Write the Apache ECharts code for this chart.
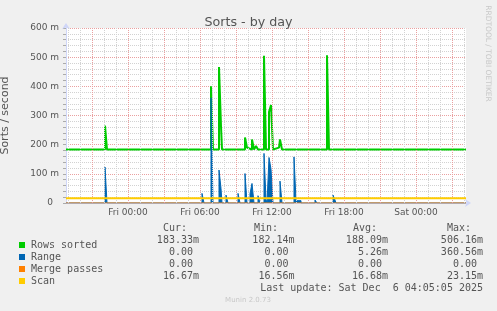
<!DOCTYPE html>
<html><head><meta charset="utf-8">
<script src="https://cdn.jsdelivr.net/npm/echarts@6/dist/echarts.min.js"></script>
<style>html,body{margin:0;padding:0;background:#F0F0F0;}#c{width:497px;height:311px;}</style>
</head><body><div id="c"></div>
<script>
// ---- data (x in minutes relative to Fri 00:00, y in milli-sorts/second) ----
const chartTitle = 'Sorts - by day';
const yAxisTitle = 'Sorts / second';
const xMin = -310, xMax = 1690;
const xTickMinutes = [0, 360, 720, 1080, 1440];
const xTickLabels = ['Fri 00:00', 'Fri 06:00', 'Fri 12:00', 'Fri 18:00', 'Sat 00:00'];
const yTickValues = [0, 100, 200, 300, 400, 500, 600];
const seriesNames = ['Rows sorted', 'Range', 'Merge passes', 'Scan'];
const seriesColors = ['#00CC00', '#0066B3', '#FF8000', '#FFCC00'];
// value holds from its time until the next listed time
const rowsSorted = [[-310,183.3],[-115,265],[-105,183.3],[375,187],[380,183.3],[415,400],[425,183.3],
  [455,466],[465,263],[470,183.3],[540,188],[545,183.3],[585,225],[595,190],[605,183.3],[620,218],[630,183.3],
  [640,195],[650,183.3],[680,505],[690,183.3],[705,312],[715,336],[725,183.3],[735,190],[755,183.3],
  [760,218],[770,183.3],[830,186],[840,183.3],[995,506.16],[1005,183.3],[1025,187],[1035,183.3],[1690,183.3]];
const range = [[-310,0],[-115,123],[-105,0],[370,33],[380,0],[415,360.56],[425,0],[455,113],[465,50],[470,0],
  [490,27],[500,0],[550,33],[560,0],[585,101],[595,0],[610,32],[620,67],[630,0],[650,25],[660,0],
  [680,170],[690,12],[695,0],[705,156],[715,116],[725,0],[760,75],[770,0],[830,158],[840,8],[865,0],
  [935,10],[945,0],[1025,27],[1035,10],[1040,0],[1690,0]];
const mergePasses = [[-310,0],[1690,0]];
const scan = [[-310,16.67],[995,23.15],[1005,16.67],[1690,16.67]];
const statHeaders = ['Cur:', 'Min:', 'Avg:', 'Max:'];
const statCur = ['183.33m', '0.00\u00a0', '0.00\u00a0', '16.67m'];
const statMin = ['182.14m', '0.00\u00a0', '0.00\u00a0', '16.56m'];
const statAvg = ['188.09m', '5.26m', '0.00\u00a0', '16.68m'];
const statMax = ['506.16m', '360.56m', '0.00\u00a0', '23.15m'];
const lastUpdate = 'Last update: Sat Dec  6 04:05:05 2025';
const footer = 'Munin 2.0.73';
const sideText = 'RRDTOOL / TOBI OETIKER';

// ---- layout ----
const minorGridColor = '#d2d2d2', majorGridColor = '#eaa0a0';
const font = 'DejaVu Sans', mono = 'DejaVu Sans Mono';
const txt = '#555555';

const vLines = [];
for (let m = -300; m <= 1680; m += 60) {
  const major = (m % 180) === 0;
  vLines.push({ xAxis: m, lineStyle: { color: major ? majorGridColor : minorGridColor, type: [1, 1], width: 1 } });
}

const graphics = [];
const colX = [199, 294.5, 388, 483];
const headerX = [163, 254, 353, 447];
const rowY = [240, 252, 264, 276];
statHeaders.forEach((h, i) => graphics.push({ type: 'text', x: headerX[i], y: 228, style: { text: h, font: '10px "' + mono + '"', fill: txt, textAlign: 'left', textVerticalAlign: 'middle' } }));
[statCur, statMin, statAvg, statMax].forEach((col, c) => col.forEach((v, r) => graphics.push({
  type: 'text', x: colX[c], y: rowY[r], style: { text: v, font: '10px "' + mono + '"', fill: txt, textAlign: 'right', textVerticalAlign: 'middle' } })));
graphics.push({ type: 'text', x: 483, y: 288, style: { text: lastUpdate, font: '10px "' + mono + '"', fill: txt, textAlign: 'right', textVerticalAlign: 'middle' } });
graphics.push({ type: 'text', x: 248, y: 300, style: { text: footer, font: '7px "' + font + '"', fill: '#c8c8c8', textAlign: 'center', textVerticalAlign: 'middle' } });
graphics.push({ type: 'text', x: 488, y: 53.5, rotation: -Math.PI / 2, style: { text: sideText, font: '7.5px "' + font + '"', fill: '#c8c8c8', textAlign: 'center', textVerticalAlign: 'middle' } });

const chart = echarts.init(document.getElementById('c'), null, { renderer: 'canvas' });
const lineSeries = (name, data, color, width, z) => ({
  name, type: 'line', data, step: 'end', showSymbol: false, symbol: 'none', z,
  lineStyle: { color, width }, itemStyle: { color }, animation: false, silent: true
});
chart.setOption({
  backgroundColor: '#F0F0F0',
  animation: false,
  title: { text: chartTitle, left: 'center', top: 11, textStyle: { fontFamily: font, fontSize: 12.7, fontWeight: 'normal', color: txt } },
  grid: { left: 66, right: 31, top: 28, bottom: 108, show: true, backgroundColor: '#FFFFFF', borderWidth: 0, containLabel: false, outerBoundsMode: 'none' },
  legend: {
    data: seriesNames.map(n => ({ name: n, icon: 'rect' })), orient: 'vertical', left: 14, top: 234,
    itemWidth: 6, itemHeight: 6, itemGap: 0, selectedMode: false,
    textStyle: { fontFamily: mono, fontSize: 10, color: txt, lineHeight: 12, padding: [0, 0, 0, 1] }
  },
  xAxis: {
    type: 'value', min: xMin, max: xMax,
    axisLine: { show: true, onZero: false, lineStyle: { color: '#CFD6F8', width: 1 }, symbol: ['none', 'arrow'], symbolSize: [6, 6], symbolOffset: [0, 5] },
    axisTick: { show: false },
    splitLine: { show: false },
    axisLabel: { customValues: xTickMinutes, formatter: v => xTickLabels[xTickMinutes.indexOf(v)] || '', fontFamily: font, fontSize: 9, color: txt, margin: 5 }
  },
  yAxis: {
    type: 'value', min: 0, max: 600, interval: 100,
    name: yAxisTitle, nameLocation: 'middle', nameGap: 55, nameTextStyle: { fontFamily: font, fontSize: 11, color: txt },
    axisLine: { show: true, onZero: false, lineStyle: { color: '#CFD6F8', width: 1 }, symbol: ['none', 'arrow'], symbolSize: [6, 6], symbolOffset: [0, 5] },
    axisTick: { show: true, length: 3, lineStyle: { color: '#aaaaaa' } },
    minorTick: { show: true, splitNumber: 5, length: 3, lineStyle: { color: '#aaaaaa' } },
    splitLine: { show: true, lineStyle: { color: majorGridColor, type: [1, 1] } },
    minorSplitLine: { show: true, lineStyle: { color: minorGridColor, type: [1, 1] } },
    axisLabel: {
      formatter: v => (v === 0 ? '{z|0}' : v + ' m'), fontFamily: font, fontSize: 9, color: txt, margin: 7,
      rich: { z: { fontFamily: font, fontSize: 9, color: txt, padding: [0, 6, 0, 0] } }
    }
  },
  series: [
    { name: 'grid', type: 'line', data: [], silent: true, z: 1, markLine: { silent: true, symbol: ['none', 'none'], label: { show: false }, animation: false, data: vLines } },
    lineSeries(seriesNames[0], rowsSorted, seriesColors[0], 2, 2),
    Object.assign(lineSeries(seriesNames[1], range, seriesColors[1], 1, 3), { areaStyle: { color: seriesColors[1], opacity: 1 } }),
    lineSeries(seriesNames[2], mergePasses, seriesColors[2], 1, 4),
    lineSeries(seriesNames[3], scan, seriesColors[3], 2, 5)
  ],
  graphic: graphics
});
</script></body></html>
